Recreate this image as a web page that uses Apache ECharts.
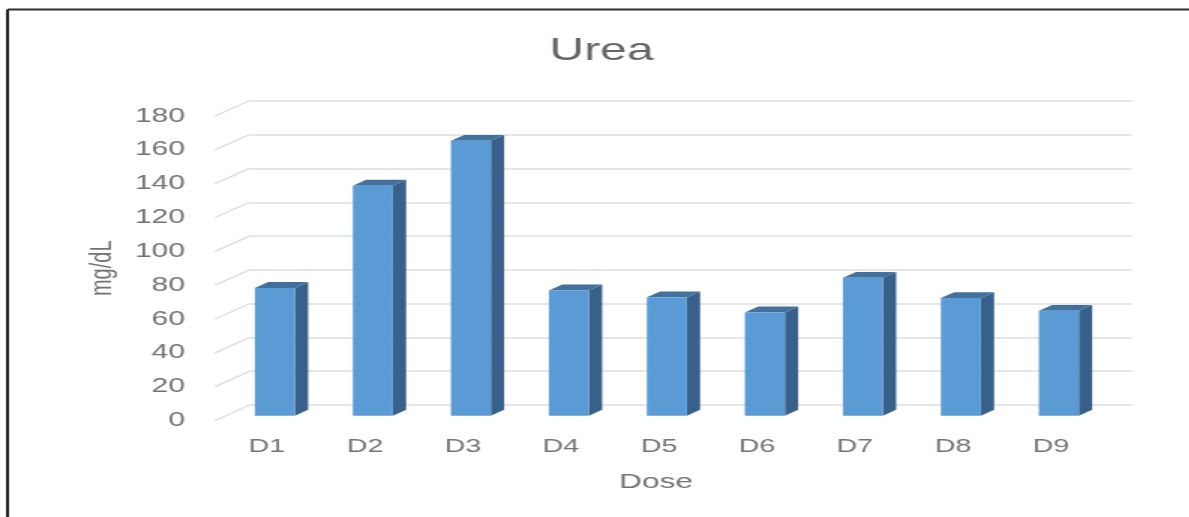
<!DOCTYPE html>
<html>
<head>
<meta charset="utf-8">
<script src="https://cdn.jsdelivr.net/npm/echarts@6/dist/echarts.min.js"></script>
<style>
html,body{margin:0;padding:0;background:#fff;overflow:hidden;width:1189px;height:517px}
#chart{width:793px;height:517px;transform-origin:0 0;transform:scaleX(1.5);filter:blur(0.45px)}
</style>
</head>
<body>
<div id="chart"></div>
<script>
const categories = ['D1','D2','D3','D4','D5','D6','D7','D8','D9'];
const ureaValues = [75.5,136,162.5,74,70,61,81.5,69.5,62];
const yTicks = [0,20,40,60,80,100,120,140,160,180];

// the source picture is stretched horizontally; layout is in unstretched px
const SX = 1.5;
const X = v => v / SX;
const DEPTH_X = X(35), DEPTH_Y = 15.5;
const BAR_NEAR = 0.31, BAR_FAR = 0.69, BAR_WIDTH = 0.408;
const project = (p, d) => [p[0] + DEPTH_X * d, p[1] - DEPTH_Y * d];
const textColor = '#737373';
const fontFamily = '"Liberation Sans", Arial, sans-serif';

const chart = echarts.init(document.getElementById('chart'), null, {renderer:'canvas'});
chart.setOption({
  backgroundColor:'#ffffff',
  animation:false,
  title:{text:'Urea',left:X(594),top:30,textAlign:'center',
    textStyle:{color:'#666666',fontSize:32,fontWeight:'normal',fontFamily}},
  graphic:[
    {type:'line',silent:true,shape:{x1:X(7.5),y1:9.5,x2:793,y2:9.5},style:{stroke:'#333333',lineWidth:2}},
    {type:'line',silent:true,shape:{x1:X(7.5),y1:9.5,x2:X(7.5),y2:517},style:{stroke:'#222222',lineWidth:2}}
  ],
  grid:[
    {left:X(250),width:X(882),top:101,height:304},
    {left:X(215),width:X(882),top:116,height:304.5}
  ],
  xAxis:[
    {type:'category',gridIndex:0,data:categories,show:false},
    {type:'category',gridIndex:1,data:categories,
      axisLine:{show:false},axisTick:{show:false},
      axisLabel:{color:textColor,fontSize:19,fontFamily,margin:17,padding:[0,0,0,X(6)]},
      name:'Dose',nameLocation:'middle',nameGap:51,
      nameTextStyle:{color:textColor,fontSize:21,fontFamily}}
  ],
  yAxis:[
    {type:'value',gridIndex:0,min:0,max:180,interval:20,
      axisLine:{show:false},axisTick:{show:false},axisLabel:{show:false},
      splitLine:{show:true,lineStyle:{color:'#dfdfdf',width:1.5}}},
    {type:'value',gridIndex:1,min:0,max:180,interval:20,
      axisLine:{show:false},axisTick:{show:false},splitLine:{show:false},
      axisLabel:{color:textColor,fontSize:20,fontFamily,margin:X(30),padding:[6,0,0,0],
        formatter:v=>yTicks.includes(v)?String(v):''},
      name:'mg/dL',nameLocation:'middle',nameRotate:90,nameGap:X(97),
      nameTextStyle:{color:textColor,fontSize:20,fontFamily}}
  ],
  series:[
    {type:'custom',name:'floor edges',xAxisIndex:1,yAxisIndex:1,silent:true,z:1,
      data:yTicks.map(v=>[v]),
      encode:{y:0},
      renderItem(params,api){
        const band = api.size([1,0])[0];
        const c = api.coord([0,api.value(0)]);
        const a = [c[0]-band/2,c[1]];
        const b = project(a,1);
        return {type:'line',shape:{x1:a[0],y1:a[1],x2:b[0],y2:b[1]},
          style:{stroke:'#dfdfdf',lineWidth:1.5,fill:null}};
      }},
    {type:'custom',name:'Urea',xAxisIndex:1,yAxisIndex:1,z:2,
      data:ureaValues.map((v,i)=>[i,v]),
      encode:{x:0,y:1},
      renderItem(params,api){
        const i = api.value(0), v = api.value(1);
        const w = api.size([1,0])[0]*BAR_WIDTH;
        const top = api.coord([i,v]), base = api.coord([i,0]);
        const l = top[0]-w/2, r = top[0]+w/2;
        const pts = (pp)=>({points:pp});
        const ftl = project([l,top[1]],BAR_NEAR), ftr = project([r,top[1]],BAR_NEAR);
        const fbl = project([l,base[1]],BAR_NEAR), fbr = project([r,base[1]],BAR_NEAR);
        const btl = project([l,top[1]],BAR_FAR), btr = project([r,top[1]],BAR_FAR);
        const bbr = project([r,base[1]],BAR_FAR);
        return {type:'group',children:[
          {type:'polygon',shape:pts([ftr,btr,bbr,fbr]),style:{fill:'#37618a'}},
          {type:'polygon',shape:pts([ftl,btl,btr,ftr]),style:{fill:'#41719c'}},
          {type:'polygon',shape:pts([ftl,ftr,fbr,fbl]),style:{fill:'#5b9bd5'}}
        ]};
      }}
  ]
});
</script>
</body>
</html>
